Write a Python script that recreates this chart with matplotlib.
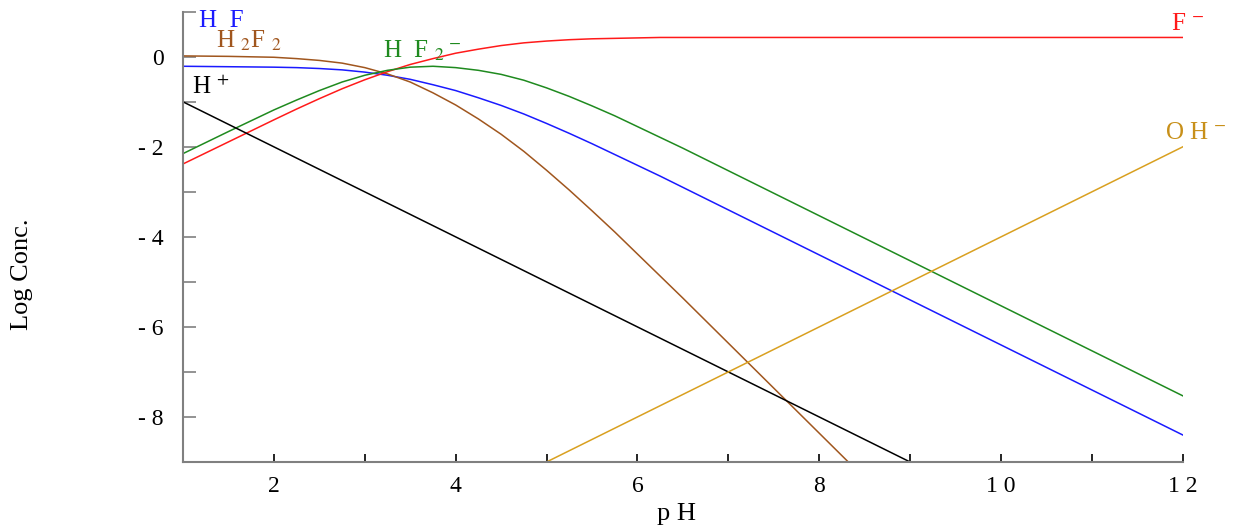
import matplotlib
matplotlib.use("Agg")
import matplotlib.pyplot as plt

plt.rcParams['font.family'] = ['Liberation Serif', 'DejaVu Serif']
plt.rcParams['mathtext.fontset'] = 'stix'

# pH grid and log concentrations
ph = [1, 1.5, 2, 2.25, 2.5, 2.75, 3, 3.25, 3.5, 3.75, 4, 4.25, 4.5, 4.75, 5, 5.25, 5.5,
      5.75, 6, 6.25, 6.5, 7, 7.5, 8, 8.5, 9, 10, 11, 12]
log_hf = [-0.21, -0.22, -0.23, -0.24, -0.26, -0.29, -0.34, -0.41, -0.50, -0.62, -0.75,
          -0.91, -1.08, -1.27, -1.48, -1.70, -1.93, -2.17, -2.41, -2.65, -2.90, -3.40,
          -3.90, -4.40, -4.90, -5.40, -6.40, -7.40, -8.40]
log_h2f2 = [0.02, 0.01, -0.01, -0.04, -0.08, -0.14, -0.24, -0.38, -0.56, -0.80, -1.07,
            -1.38, -1.72, -2.10, -2.52, -2.96, -3.42, -3.89, -4.38, -4.87, -5.36, -6.36,
            -7.36, -8.36, -9.36, -10.36, -12.36, -14.36, -16.36]
log_f = [-2.38, -1.89, -1.40, -1.16, -0.93, -0.71, -0.51, -0.33, -0.17, -0.04, 0.08,
         0.17, 0.25, 0.31, 0.35, 0.38, 0.40, 0.41, 0.42, 0.43, 0.43, 0.43, 0.43, 0.43,
         0.43, 0.43, 0.43, 0.43, 0.43]
log_hf2 = [-2.15, -1.66, -1.18, -0.96, -0.75, -0.56, -0.41, -0.30, -0.23, -0.21, -0.24,
           -0.30, -0.39, -0.52, -0.69, -0.88, -1.09, -1.31, -1.55, -1.79, -2.03, -2.53,
           -3.03, -3.53, -4.03, -4.53, -5.53, -6.53, -7.53]
ph_line = [1, 12]
log_h = [-1, -12]
log_oh = [-13, -2]

fig = plt.figure(figsize=(12.45, 5.29), dpi=100)
ax = fig.add_axes([0.147, 0.1267, 0.803, 0.851])

ax.plot(ph, log_hf, color='#1a1aff', lw=1.1)
ax.plot(ph, log_h2f2, color='#a0561e', lw=1.1)
ax.plot(ph, log_f, color='#ff1a1a', lw=1.1)
ax.plot(ph, log_hf2, color='#1f8a1f', lw=1.1)
ax.plot(ph_line, log_h, color='black', lw=1.1)
ax.plot(ph_line, log_oh, color='#d9a020', lw=1.1)

ax.set_xlim(1, 12)
ax.set_ylim(-9, 1)

# species labels
lab = dict(fontsize=18, va='baseline', ha='left')
ax.text(1.176, 0.67, 'H  F', color='#1a1aff', **lab)
ax.text(1.363, 0.20, 'H $_{2}$F $_{2}$', color='#a0561e', **lab)
ax.text(1.10, -0.82, 'H $^{+}$', color='black', **lab)
ax.text(3.20, -0.02, 'H  F $_{2}$$^{\\,-}$', color='#1f8a1f', **lab)
ax.text(11.876, 0.60, 'F $^{-}$', color='#ff1a1a', **lab)
ax.text(11.80, -1.82, 'O H $^{-}$', color='#c8901a', **lab)

for s in ['top', 'right']:
    ax.spines[s].set_visible(False)
for s in ['left', 'bottom']:
    ax.spines[s].set_color('#808080')
    ax.spines[s].set_linewidth(1.5)

ax.set_xticks(range(1, 13))
ax.set_xticklabels(['' if v % 2 else ' '.join(str(v)) for v in range(1, 13)])
ax.set_yticks(range(-9, 2))
ax.set_yticklabels(['' if v % 2 else str(v).replace('-', '- ') if v else '0' for v in range(-9, 2)])
ax.tick_params(axis='x', direction='in', length=6, width=1.2, color='black',
               labelsize=17, pad=10)
ax.tick_params(axis='y', direction='in', length=9, width=1.2, color='#808080',
               labelsize=17, pad=14)

fig.text(0.018, 1 - 274 / 529, 'Log Conc.', rotation=90, fontsize=19,
         ha='center', va='center')
fig.text(677 / 1245, 1 - 514 / 529, 'p H', fontsize=19, ha='center', va='center')

fig.savefig('out.png', dpi=100)
